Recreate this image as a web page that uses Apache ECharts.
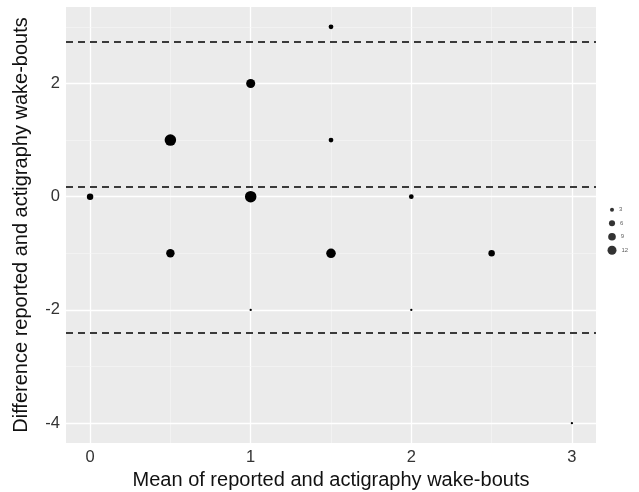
<!DOCTYPE html>
<html>
<head>
<meta charset="utf-8">
<script src="https://cdn.jsdelivr.net/npm/echarts@6/dist/echarts.min.js"></script>
<style>html,body{margin:0;padding:0;background:#fff}#c{width:639px;height:492px}</style>
</head>
<body>
<div id="c"></div>
<script>
// Data
const meanVals  = [0, 0.5, 0.5, 1, 1, 1, 1.5, 1.5, 1.5, 2, 2, 2.5, 3];
const diffVals  = [0, 1, -1, 2, 0, -2, 3, 1, -1, 0, -2, -1, -4];
const countVals = [5, 14, 8, 9, 14, 1, 3, 3, 10, 3, 1, 5, 1];
const limitLines = [2.74, 0.17, -2.41];       // upper LoA, mean, lower LoA
const xTicks = [0, 1, 2, 3];
const xMinor = [0.5, 1.5, 2.5];
const yTicks = [-4, -2, 0, 2];
const yMinor = [-3, -1, 1, 3];
const legendCounts = [3, 6, 9, 12];

const cMin = 1, cMax = 14;
function dia(c) {
  return 2.3 + (Math.sqrt(c) - Math.sqrt(cMin)) / (Math.sqrt(cMax) - Math.sqrt(cMin)) * 9.2;
}

const points = meanVals.map((m, i) => [m, diffVals[i], countVals[i]]);
const font = 'Liberation Sans, Arial, sans-serif';

const gridLinesData = []
  .concat(xTicks.map(v => ({ xAxis: v, lineStyle: { width: 1.3, color: '#ffffff', type: 'solid' } })))
  .concat(xMinor.map(v => ({ xAxis: v, lineStyle: { width: 0.6, color: '#f7f7f7', type: 'solid' } })))
  .concat(yTicks.map(v => ({ yAxis: v, lineStyle: { width: 1.3, color: '#ffffff', type: 'solid' } })))
  .concat(yMinor.map(v => ({ yAxis: v, lineStyle: { width: 0.6, color: '#f7f7f7', type: 'solid' } })));

const chart = echarts.init(document.getElementById('c'));
chart.setOption({
  animation: false,
  backgroundColor: '#ffffff',
  grid: [
    { left: 66, right: 43, top: 7, bottom: 49, show: true, backgroundColor: '#ebebeb', borderWidth: 0,
      containLabel: false, outerBoundsMode: 'none' },
    { left: 606, top: 203, width: 12, height: 54, show: false, containLabel: false, outerBoundsMode: 'none' }
  ],
  xAxis: [{
    gridIndex: 0, type: 'value', min: -0.15, max: 3.15,
    name: 'Mean of reported and actigraphy wake-bouts', nameLocation: 'middle', nameGap: 25,
    nameTextStyle: { fontFamily: font, fontSize: 20, color: '#111' },
    axisLine: { show: false },
    axisTick: { show: true, customValues: xTicks, length: 3, lineStyle: { color: '#444' } },
    axisLabel: { customValues: xTicks, fontFamily: font, fontSize: 16.5, color: '#333', margin: 6 },
    splitLine: { show: false }
  }, {
    gridIndex: 1, type: 'value', min: -1, max: 1, show: false
  }],
  yAxis: [{
    gridIndex: 0, type: 'value', min: -4.35, max: 3.35,
    name: 'Difference reported and actigraphy wake-bouts', nameLocation: 'middle', nameGap: 35,
    nameTextStyle: { fontFamily: font, fontSize: 20, color: '#111' },
    axisLine: { show: false },
    axisTick: { show: true, customValues: yTicks, length: 3, lineStyle: { color: '#444' } },
    axisLabel: { customValues: yTicks, fontFamily: font, fontSize: 16.5, color: '#333', margin: 6 },
    splitLine: { show: false }
  }, {
    gridIndex: 1, type: 'category', data: legendCounts.map(String), inverse: true, show: false
  }],
  series: [
    {
      type: 'scatter', xAxisIndex: 0, yAxisIndex: 0, data: [], z: 1, silent: true,
      markLine: { silent: true, symbol: 'none', label: { show: false }, animation: false, data: gridLinesData }
    },
    {
      type: 'scatter', xAxisIndex: 0, yAxisIndex: 0, data: [], z: 2, silent: true,
      markLine: {
        silent: true, symbol: 'none', label: { show: false }, animation: false,
        lineStyle: { color: '#3a3a3a', width: 2.2, type: [7, 5] },
        data: limitLines.map(v => ({ yAxis: v }))
      }
    },
    {
      type: 'scatter', xAxisIndex: 0, yAxisIndex: 0, z: 3, zlevel: 1,
      data: points,
      symbolSize: v => dia(v[2]),
      itemStyle: { color: '#000', opacity: 1 }
    },
    {
      type: 'scatter', xAxisIndex: 1, yAxisIndex: 1, z: 3,
      data: legendCounts.map((c, i) => [0, String(c), c]),
      symbolSize: v => dia(v[2]) * 0.85,
      itemStyle: { color: '#000' },
      label: { show: true, position: 'right', distance: 5, formatter: p => String(p.value[2]),
               fontFamily: font, fontSize: 6, color: '#333' }
    }
  ]
});
</script>
</body>
</html>
